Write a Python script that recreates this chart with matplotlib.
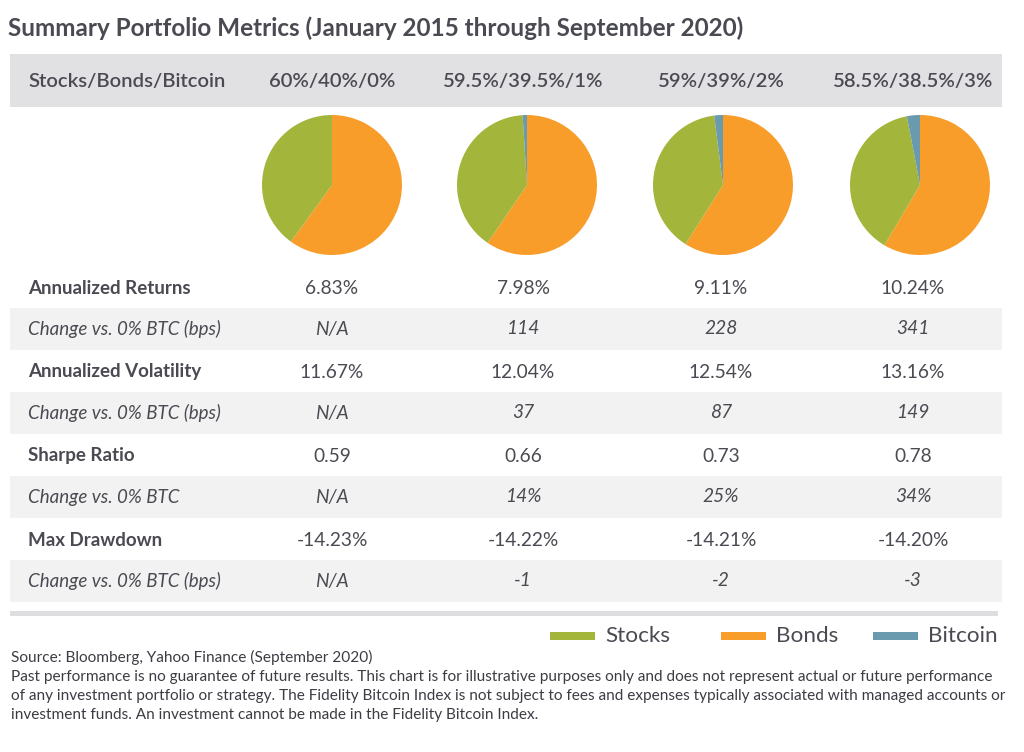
import matplotlib.pyplot as plt
from matplotlib.patches import Rectangle

plt.rcParams['font.family'] = ['Lato', 'DejaVu Sans']

# portfolio mixes
headers = ['60%/40%/0%', '59.5%/39.5%/1%', '59%/39%/2%', '58.5%/38.5%/3%']
stocks = [60, 59.5, 59, 58.5]
bonds = [40, 39.5, 39, 38.5]
bitcoin = [0, 1, 2, 3]

row_labels = ['Annualized Returns', 'Change vs. 0% BTC (bps)',
              'Annualized Volatility', 'Change vs. 0% BTC (bps)',
              'Sharpe Ratio', 'Change vs. 0% BTC',
              'Max Drawdown', 'Change vs. 0% BTC (bps)']
ann_returns = ['6.83%', '7.98%', '9.11%', '10.24%']
ret_change = ['N/A', '114', '228', '341']
ann_vol = ['11.67%', '12.04%', '12.54%', '13.16%']
vol_change = ['N/A', '37', '87', '149']
sharpe = ['0.59', '0.66', '0.73', '0.78']
sharpe_change = ['N/A', '14%', '25%', '34%']
max_dd = ['-14.23%', '-14.22%', '-14.21%', '-14.20%']
dd_change = ['N/A', '-1', '-2', '-3']
rows = [ann_returns, ret_change, ann_vol, vol_change,
        sharpe, sharpe_change, max_dd, dd_change]

c_stock = '#a3b53a'
c_bond = '#f99d2a'
c_btc = '#6a9aad'
txt = '#4a4a52'

W, H = 1024, 752
fig = plt.figure(figsize=(W / 100, H / 100), dpi=100)
ax = fig.add_axes([0, 0, 1, 1])
ax.set_xlim(0, W)
ax.set_ylim(H, 0)
ax.axis('off')

ax.text(8, 28, 'Summary Portfolio Metrics (January 2015 through September 2020)',
        fontsize=17.5, fontweight='bold', color=txt, va='center', ha='left')

# header band
ax.add_patch(Rectangle((10, 54), 992, 53, color='#e1e1e4', lw=0))
ax.text(28, 81, 'Stocks/Bonds/Bitcoin', fontsize=14.6, fontweight='semibold',
        color=txt, va='center')
col_x = [332, 523, 721, 913]
for x, h in zip(col_x, headers):
    ax.text(x, 81, h, fontsize=14.6, fontweight='semibold', color=txt,
            va='center', ha='center')

# pies
pie_x = [332, 527, 723, 920]
pie_r = 70
for i, x in enumerate(pie_x):
    pax = fig.add_axes([(x - pie_r) / W, 1 - (185 + pie_r) / H,
                        2 * pie_r / W, 2 * pie_r / H])
    # wedges drawn clockwise from 12 o'clock as in the source graphic
    vals = [stocks[i], bonds[i], bitcoin[i]]
    pax.pie(vals, colors=[c_bond, c_stock, c_btc], startangle=90,
            counterclock=False, wedgeprops=dict(linewidth=0))
    pax.set_xlim(-1, 1)
    pax.set_ylim(-1, 1)
    pax.set_aspect('equal')
    pax.axis('off')

# metric rows
row_y = [288, 329, 372, 413, 456, 497, 540, 581]
for j, (lab, vals, y) in enumerate(zip(row_labels, rows, row_y)):
    sub = j % 2 == 1
    if sub:
        ax.add_patch(Rectangle((10, y - 21), 992, 42, color='#f2f2f2', lw=0))
    ax.text(28, y, lab, fontsize=13.5, color=txt, va='center',
            fontweight='normal' if sub else 'bold',
            fontstyle='italic' if sub else 'normal')
    for x, v in zip(col_x, vals):
        ax.text(x, y, v, fontsize=13.8, color=txt, va='center', ha='center',
                fontstyle='italic' if sub else 'normal')

ax.add_patch(Rectangle((10, 611), 988, 5, color='#dedee0', lw=0))

# legend
leg = [('Stocks', c_stock, 550), ('Bonds', c_bond, 721), ('Bitcoin', c_btc, 873)]
for name, c, x in leg:
    ax.add_patch(Rectangle((x, 632), 45, 8, color=c, lw=0))
    ax.text(x + 55, 636, name, fontsize=16.2, color=txt, va='center')

foot = ['Source: Bloomberg, Yahoo Finance (September 2020)',
        'Past performance is no guarantee of future results. This chart is for illustrative purposes only and does not represent actual or future performance',
        'of any investment portfolio or strategy. The Fidelity Bitcoin Index is not subject to fees and expenses typically associated with managed accounts or',
        'investment funds. An investment cannot be made in the Fidelity Bitcoin Index.']
for k, line in enumerate(foot):
    ax.text(11, 657 + k * 19.5, line, fontsize=11.1, color='#3c3c44', va='center')

fig.savefig('out.png', dpi=100, facecolor='white')
